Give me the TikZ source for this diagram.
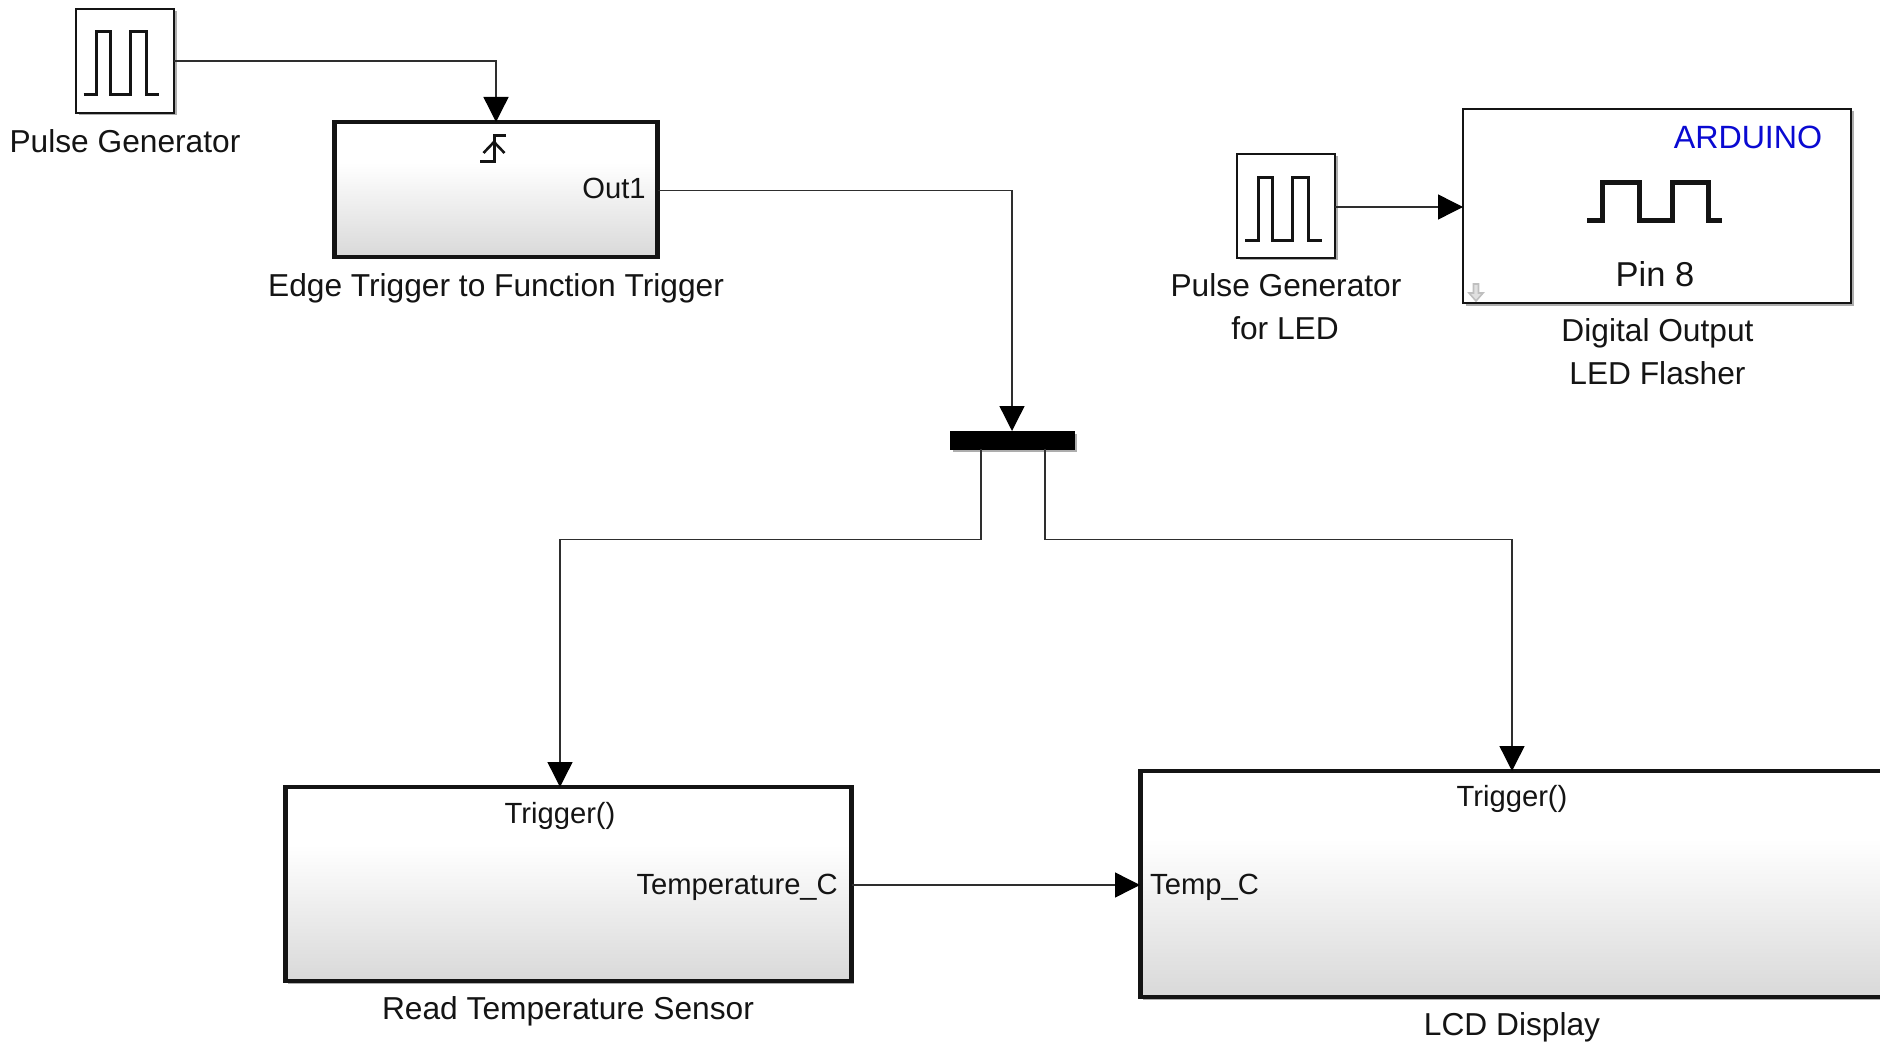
\documentclass[tikz,border=0pt]{standalone}
\usepackage{fontspec}
\setmainfont{Liberation Sans}
\usetikzlibrary{arrows.meta,shadows}
\pgfdeclareverticalshading{simblock}{100bp}{color(0bp)=(black!15);color(25bp)=(black!15);color(60bp)=(white);color(100bp)=(white)}
\definecolor{ink}{HTML}{141414}
\definecolor{wire}{HTML}{2E2E2E}
\definecolor{arduinoblue}{HTML}{0A0AD2}
\tikzset{
  softshadow/.style={general shadow={shadow xshift=2.5pt,shadow yshift=-2.5pt,fill=black,opacity=.32}},
  block/.style={draw=ink,anchor=north west,inner sep=0pt,outer sep=0pt,softshadow},
  plainblock/.style={block,fill=white,line width=2.2pt},
  subsystem/.style={block,shading=simblock,line width=4.2pt},
  label/.style={anchor=base,inner sep=0pt,text=ink,align=center,font=\fontsize{31.7}{42}\selectfont},
  port/.style={anchor=base,inner sep=0pt,text=ink,font=\fontsize{29.2}{34}\selectfont},
  signal/.style={draw=wire,line width=1.4pt,-{Triangle[length=25pt,width=25pt,color=black]}},
  wave/.style={draw=ink,line width=3pt,line cap=butt,line join=miter},
}
\begin{document}
\begin{tikzpicture}[x=1pt,y=-1pt]
\useasboundingbox (0,0) rectangle (1880,1043);
\clip (0,0) rectangle (1880,1043);
\fill[white] (0,0) rectangle (1880,1043);

% blocks
\node[plainblock,minimum width=98pt,minimum height=104pt] (pg1) at (76,9) {};
\node[subsystem,minimum width=323pt,minimum height=135pt] (edge) at (334.5,122) {};
\node[plainblock,minimum width=98pt,minimum height=104pt] (pg2) at (1237,154) {};
\node[plainblock,minimum width=388pt,minimum height=194pt] (ard) at (1463,109) {};
\node[block,fill=black,draw=black,line width=0pt,minimum width=124pt,minimum height=18pt] (bar) at (950,431) {};
\node[subsystem,minimum width=566pt,minimum height=194pt] (read) at (285.5,787) {};
\node[subsystem,minimum width=900pt,minimum height=226pt] (lcd) at (1140.5,771) {};

% ports
\coordinate (barL) at (981,449);
\coordinate (barR) at (1045,449);
\coordinate (readT) at (560,787);
\coordinate (lcdT) at (1512,771);
\coordinate (readO) at (851.5,885);
\coordinate (lcdI) at (1140,885);
\coordinate (pg1O) at (174,61);
\coordinate (edgeO) at (657.5,190.5);
\coordinate (pg2O) at (1335,207);
\coordinate (ardI) at (1463,207);
\coordinate (midL) at (560,539.5);
\coordinate (midR) at (1512,539.5);

% connectors
\draw[signal] (pg1O) -| (edge.north);
\draw[signal] (edgeO) -| (bar.north);
\draw[signal] (pg2O) -- (ardI);
\draw[signal] (barL) |- (midL) -- (readT);
\draw[signal] (barR) |- (midR) -- (lcdT);
\draw[signal] (readO) -- (lcdI);

% icons
\draw[wave] (83.5,95) -- (96,95) -- (96,32) -- (110,32) -- (110,95) -- (130,95) -- (130,32) -- (146,32) -- (146,95) -- (159,95);
\draw[wave] (1245,241) -- (1258,241) -- (1258,178) -- (1272,178) -- (1272,241) -- (1292,241) -- (1292,178) -- (1308,178) -- (1308,241) -- (1322,241);
\draw[wave,line width=5pt] (1587,221) -- (1602,221) -- (1602,183) -- (1639,183) -- (1639,221) -- (1672,221) -- (1672,183) -- (1708,183) -- (1708,221) -- (1722,221);
\draw[draw=ink,line width=3pt] (506,136) -- (494,136) -- (494,162) -- (480,162);
\draw[draw=ink,line width=2.6pt] (483.5,153) -- (494,142) -- (504.5,153);
\draw[draw=black!25,line width=1.6pt,fill=black!12] (1473.5,284) -- (1478.5,284) -- (1478.5,293) -- (1483,293) -- (1476,301) -- (1469,293) -- (1473.5,293) -- cycle;

% block texts
\node[port] (t1) at (614,198.5) {Out1};
\node[port] (t2) at (560,823) {Trigger()};
\node[port,anchor=base east] (t3) at (838,894) {Temperature\_C};
\node[port] (t4) at (1512,806) {Trigger()};
\node[port,anchor=base west] (t5) at (1150,894) {Temp\_C};
\node[label,text=arduinoblue,font=\fontsize{32.2}{38}\selectfont] (t6) at (1748,149) {ARDUINO};
\node[label,font=\fontsize{34.5}{42}\selectfont] (t7) at (1655,287) {Pin 8};

% captions
\node[label] (c1) at (125,152.5) {Pulse Generator};
\node[label] (c2) at (496,296) {Edge Trigger to Function Trigger};
\node[label] (c3) at (1286,296) {Pulse Generator};
\node[label] (c4) at (1285,339) {for LED};
\node[label] (c5) at (1657.5,341) {Digital Output};
\node[label] (c6) at (1657.5,384) {LED Flasher};
\node[label] (c7) at (568,1019) {Read Temperature Sensor};
\node[label] (c8) at (1512,1035) {LCD Display};
\end{tikzpicture}
\end{document}
